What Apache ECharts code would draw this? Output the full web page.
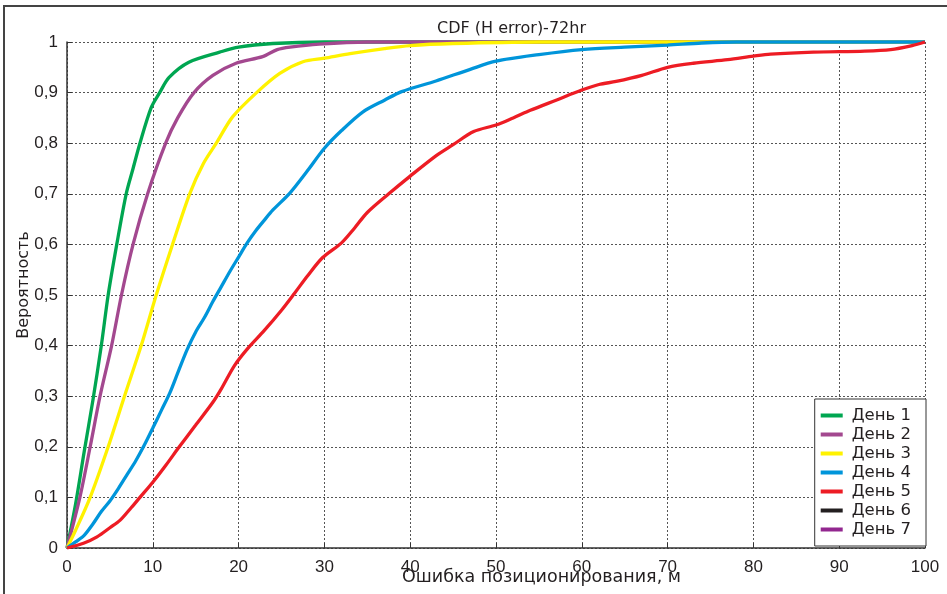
<!DOCTYPE html>
<html>
<head>
<meta charset="utf-8">
<title>CDF (H error)-72hr</title>
<script src="https://cdn.jsdelivr.net/npm/echarts@6/dist/echarts.min.js"></script>
<style>
  html, body { margin: 0; padding: 0; background: #fff; }
  #chart { width: 947px; height: 594px; }
</style>
</head>
<body>
<div id="chart"></div>
<script>
  // данные: [ошибка, м ; вероятность]
  var dayNames = ['День 1', 'День 2', 'День 3', 'День 4', 'День 5', 'День 6', 'День 7'];
  var dayColors = ['#00a651', '#a3488f', '#fff200', '#0095da', '#ed1c24', '#231f20', '#92278f'];

  var day1 = [[0,0],[1,0.087],[2,0.19],[3,0.29],[4,0.4],[4.8,0.5],[5.8,0.6],[6.9,0.7],[7.7,0.75],
    [8.5,0.8],[9.8,0.87],[10.8,0.9],[11.9,0.93],[14.2,0.96],[17.8,0.98],[20,0.99],[24,0.997],
    [30,1],[100,1]];
  var day2 = [[0,0],[1.5,0.1],[2.7,0.2],[3.85,0.3],[5.2,0.4],[6.35,0.5],[7.7,0.6],[9.4,0.7],
    [11.5,0.8],[12.9,0.85],[14.8,0.9],[17,0.934],[19.7,0.958],[22.8,0.971],[24.5,0.985],[26,0.99],
    [29.4,0.996],[35,1],[100,1]];
  var day3 = [[0,0],[1,0.035],[2.7,0.1],[4.8,0.2],[6.7,0.3],[8.65,0.4],[10.4,0.5],[12.3,0.6],
    [14.3,0.7],[15.9,0.76],[17.4,0.8],[19.3,0.852],[22.1,0.9],[24.8,0.938],[27.5,0.961],[30,0.968],
    [33,0.977],[37,0.987],[40,0.993],[45,0.997],[55,1],[100,1]];
  var day4 = [[0,0],[1,0.012],[2,0.025],[3,0.047],[4,0.072],[5,0.093],[6,0.118],[7,0.145],[8,0.172],
    [9,0.203],[10,0.237],[11,0.272],[12,0.307],[13,0.35],[14,0.392],[15,0.427],[16,0.455],[17,0.487],
    [18,0.517],[19,0.547],[20,0.575],[21,0.603],[22,0.627],[23,0.648],[24,0.668],[26,0.702],
    [28,0.745],[30,0.79],[32,0.825],[34.5,0.862],[37,0.885],[39,0.902],[43,0.923],[47,0.946],
    [50,0.962],[55,0.975],[60,0.985],[65,0.99],[70,0.994],[74,0.998],[78,1],[100,1]];
  var day5 = [[0,0],[2,0.01],[3.5,0.022],[5,0.04],[6.2,0.055],[7.5,0.08],[8.5,0.1],[10,0.13],
    [11.5,0.163],[13,0.198],[15,0.243],[17,0.288],[18,0.315],[19.5,0.36],[21,0.393],[23,0.43],
    [25,0.47],[26.5,0.503],[28,0.537],[29.8,0.574],[32,0.603],[33.5,0.632],[35,0.663],[37.5,0.7],
    [40,0.735],[43,0.775],[45,0.797],[47.4,0.823],[50,0.836],[52,0.85],[54,0.865],[57,0.885],
    [60,0.905],[62,0.916],[64,0.922],[67,0.934],[70,0.95],[73,0.958],[77,0.965],[80,0.972],
    [82,0.976],[87,0.98],[93,0.982],[96,0.985],[98.5,0.993],[100,1]];
  var day6 = [];
  var day7 = [];
  var days = [day1, day2, day3, day4, day5, day6, day7];

  var font = '"Liberation Sans", Arial, sans-serif';
  var wide = '"DejaVu Sans", sans-serif';
  var ink = '#231f20';

  var chart = echarts.init(document.getElementById('chart'));

  var series = [];
  for (var i = 0; i < days.length; i++) {
    series.push({
      name: dayNames[i],
      type: 'line',
      data: days[i],
      symbol: 'none',
      smooth: 0.3,
      clip: false,
      color: dayColors[i],
      lineStyle: { width: 3.3, color: dayColors[i] }
    });
  }

  var legendData = dayNames.map(function (n) { return { name: n, icon: 'rect' }; });

  chart.setOption({
    animation: false,
    backgroundColor: '#fff',
    textStyle: { fontFamily: font },
    title: {
      text: 'CDF (H error)-72hr',
      left: 437,
      top: 21,
      padding: 0,
      textStyle: { fontFamily: wide, fontSize: 16, fontWeight: 'normal', color: ink }
    },
    graphic: [{
      type: 'rect',
      z: -10,
      shape: { x: 4, y: 6, width: 1000, height: 1000 },
      style: { fill: 'none', stroke: '#444', lineWidth: 2 }
    }, {
      type: 'text',
      left: 402,
      top: 568,
      style: { text: 'Ошибка позиционирования, м', font: '17.5px ' + wide, fill: ink }
    }],
    legend: {
      orient: 'vertical',
      right: 21,
      top: 399,
      data: legendData,
      backgroundColor: '#fff',
      borderColor: '#333',
      borderWidth: 1,
      borderRadius: 0,
      padding: [8, 15, 8, 6],
      itemWidth: 22,
      itemHeight: 4,
      itemGap: 2,
      textStyle: { fontFamily: wide, fontSize: 16.5, color: ink, padding: [0, 0, 0, 4] }
    },
    grid: { left: 67, right: 22, top: 42, bottom: 46, containLabel: false, outerBoundsMode: 'none' },
    xAxis: {
      type: 'value',
      min: 0,
      max: 100,
      interval: 10,
      axisLine: { show: true, onZero: false, lineStyle: { color: '#333', width: 1.5 } },
      axisTick: { show: true, inside: true, length: 5, lineStyle: { color: '#333' } },
      axisLabel: { fontSize: 17, color: ink, margin: 11 },
      splitLine: { show: true, lineStyle: { color: '#555', type: [2, 2], width: 1 } }
    },
    yAxis: {
      type: 'value',
      min: 0,
      max: 1,
      interval: 0.1,
      name: 'Вероятность',
      nameLocation: 'middle',
      nameGap: 35,
      nameMoveOverlap: false,
      nameTextStyle: { fontFamily: wide, fontSize: 16, color: ink, padding: [0, 0, 0, 20] },
      axisLine: { show: true, lineStyle: { color: '#333', width: 1.5 } },
      axisTick: { show: true, inside: true, length: 5, lineStyle: { color: '#333' } },
      axisLabel: {
        fontSize: 17,
        color: ink,
        margin: 9,
        formatter: function (v) {
          var s = Math.round(v * 10) / 10;
          return String(s).replace('.', ',');
        }
      },
      splitLine: { show: true, lineStyle: { color: '#555', type: [2, 2], width: 1 } }
    },
    series: series
  });
</script>
</body>
</html>
